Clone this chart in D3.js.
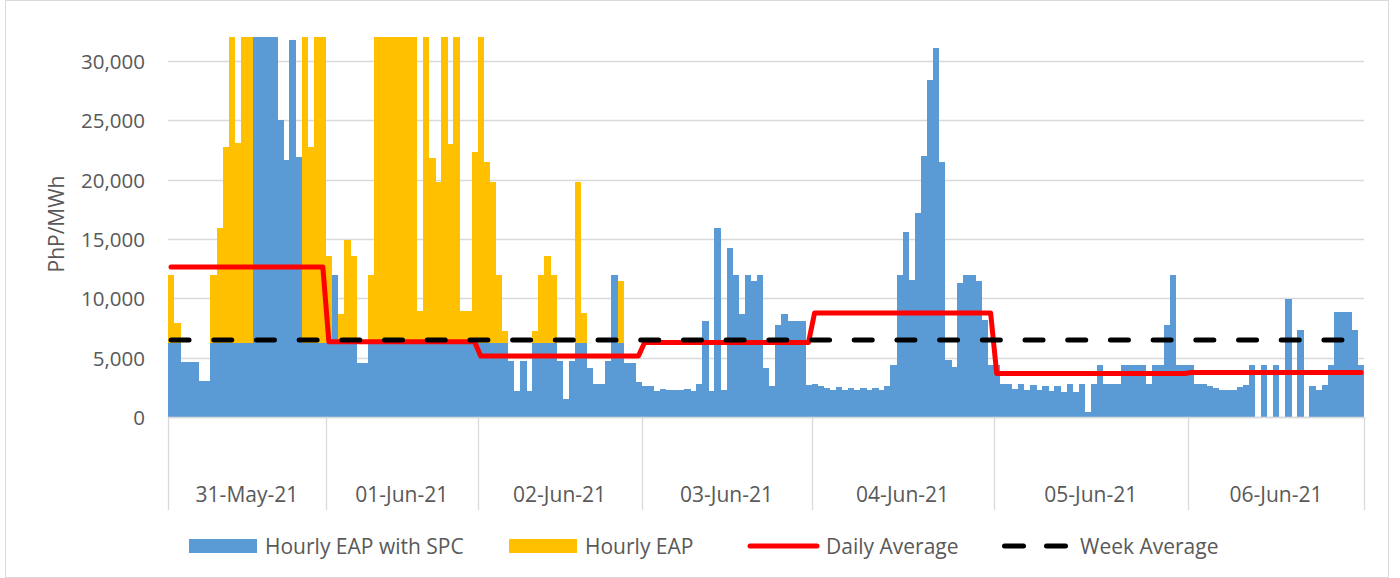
<!DOCTYPE html>
<html>
<head>
<meta charset="utf-8">
<script src="https://cdn.jsdelivr.net/npm/d3@7"></script>
<style>
body { margin: 0; background: #fff; }
svg text { font-family: "Open Sans", sans-serif; fill: #595959; }
</style>
</head>
<body>
<svg id="chart" width="1400" height="578"></svg>
<script>
// days on the lower axis level and how many hourly entries each one holds
const days = ["31-May-21", "01-Jun-21", "02-Jun-21", "03-Jun-21", "04-Jun-21", "05-Jun-21", "06-Jun-21"];
const hoursPerDay = [26, 25, 27, 28, 30, 32, 29];

// Hourly EAP with SPC (PhP/MWh), day by day
const eapWithSpc = [
  6200, 6200, 4600, 4600, 4600, 3000, 3000, 6200, 6200, 6200, 6200, 6200, 6200, 6200, 32000, 32000, 32000, 32000, 25000, 21700, 31800, 21900, 6200, 6200, 6200, 6200,
  6200, 11950, 6200, 6200, 6200, 4590, 4590, 6200, 6200, 6200, 6200, 6200, 6200, 6200, 6200, 6200, 6200, 6200, 6200, 6200, 6200, 6200, 6200, 6200, 6200,
  6200, 6200, 6200, 6200, 6200, 4730, 2200, 4730, 2200, 6200, 6200, 6200, 6200, 4730, 1550, 4730, 6200, 6200, 4170, 2760, 2760, 4730, 11950, 6200, 4590, 4590, 2990,
  2620, 2620, 2200, 2340, 2250, 2250, 2250, 2340, 2200, 2760, 8060, 2200, 15950, 2280, 14250, 11950, 8680, 11950, 11500, 11950, 4170, 2620, 7720, 8680, 8060, 8060, 8060, 2680,
  2760, 2620, 2480, 2280, 2540, 2250, 2420, 2250, 2420, 2250, 2420, 2250, 2620, 4390, 11950, 15550, 11550, 17180, 21970, 28400, 31070, 21470, 4790, 4250, 11320, 11950, 11950, 11500, 8170, 4390,
  4390, 2760, 2760, 2340, 2760, 2280, 2700, 2280, 2620, 2200, 2620, 2110, 2760, 2140, 2760, 450, 2760, 4390, 2760, 2760, 2760, 4390, 4390, 4390, 4390, 2760, 4390, 4390, 7780, 11950, 4390, 4390,
  4390, 2760, 2760, 2620, 2480, 2280, 2280, 2280, 2540, 2680, 4390, 0, 4390, 0, 4390, 0, 9940, 0, 7300, 0, 2620, 2280, 2680, 4390, 8850, 8850, 8850, 7300, 4390
];

// Hourly EAP (PhP/MWh), drawn behind; values above 32,000 are cut by the axis
const eap = [
  11950, 7900, 4600, 4600, 4600, 3000, 3000, 11950, 15950, 22760, 32000, 23100, 32000, 32000, 32000, 32000, 32000, 32000, 25000, 21700, 31800, 21900, 32000, 22760, 32000, 32000,
  13550, 11950, 8680, 14930, 13550, 4590, 4590, 11950, 32000, 32000, 32000, 32000, 32000, 32000, 32000, 8960, 32000, 21800, 19830, 32000, 22990, 32000, 8960, 8960, 22370,
  32000, 21520, 19800, 11950, 7210, 4730, 2200, 4730, 2200, 7270, 11950, 13550, 11950, 4730, 1550, 4730, 19800, 8760, 4170, 2760, 2760, 4730, 11950, 11500, 4590, 4590, 2990,
  2620, 2620, 2200, 2340, 2250, 2250, 2250, 2340, 2200, 2760, 8060, 2200, 15950, 2280, 14250, 11950, 8680, 11950, 11500, 11950, 4170, 2620, 7720, 8680, 8060, 8060, 8060, 2680,
  2760, 2620, 2480, 2280, 2540, 2250, 2420, 2250, 2420, 2250, 2420, 2250, 2620, 4390, 11950, 15550, 11550, 17180, 21970, 28400, 31070, 21470, 4790, 4250, 11320, 11950, 11950, 11500, 8170, 4390,
  4390, 2760, 2760, 2340, 2760, 2280, 2700, 2280, 2620, 2200, 2620, 2110, 2760, 2140, 2760, 450, 2760, 4390, 2760, 2760, 2760, 4390, 4390, 4390, 4390, 2760, 4390, 4390, 7780, 11950, 4390, 4390,
  4390, 2760, 2760, 2620, 2480, 2280, 2280, 2280, 2540, 2680, 4390, 0, 4390, 0, 4390, 0, 9940, 0, 7300, 0, 2620, 2280, 2680, 4390, 8850, 8850, 8850, 7300, 4390
];

const dailyAverage = [12650, 6340, 5150, 6280, 8760, 3660, 3750];
const weekAverage = 6480;
const yTicks = [0, 5000, 10000, 15000, 20000, 25000, 30000];

const svg = d3.select("#chart");
const plotLeft = 168, plotRight = 1364, plotTop = 37.3, plotBottom = 417;

// outer frame
svg.append("rect")
  .attr("x", 5.5).attr("y", 0.5).attr("width", 1383).attr("height", 577)
  .attr("fill", "none").attr("stroke", "#d9d9d9");

const x = d3.scaleBand()
  .domain(d3.range(eap.length))
  .range([plotLeft, plotRight])
  .padding(0);

const y = d3.scaleLinear()
  .domain([0, 32000])
  .range([plotBottom, plotTop]);

// grid
svg.append("g").selectAll("line")
  .data(yTicks)
  .join("line")
  .attr("x1", plotLeft).attr("x2", plotRight)
  .attr("y1", d => Math.round(y(d)) + 0.5).attr("y2", d => Math.round(y(d)) + 0.5)
  .attr("stroke", "#d9d9d9").attr("stroke-width", 1.3);

svg.append("g").selectAll("text")
  .data(yTicks)
  .join("text")
  .attr("x", 145).attr("y", d => y(d))
  .attr("text-anchor", "end").attr("dominant-baseline", "central")
  .style("font-size", "20.5px")
  .text(d3.format(","));

svg.append("text")
  .attr("transform", "translate(64,224) rotate(-90)")
  .attr("text-anchor", "middle")
  .style("font-size", "21px")
  .text("PhP/MWh");

// bars: yellow behind, blue in front
const bars = svg.append("g").attr("shape-rendering", "crispEdges");
bars.selectAll("rect.eap")
  .data(eap)
  .join("rect")
  .attr("class", "eap")
  .attr("x", (d, i) => x(i)).attr("width", x.bandwidth() + 0.4)
  .attr("y", d => y(d)).attr("height", d => y(0) - y(d))
  .attr("fill", "#FFC000");

bars.selectAll("rect.spc")
  .data(eapWithSpc)
  .join("rect")
  .attr("class", "spc")
  .attr("x", (d, i) => x(i)).attr("width", x.bandwidth() + 0.4)
  .attr("y", d => y(d)).attr("height", d => y(0) - y(d))
  .attr("fill", "#5B9BD5");

// day axis
const dayEnds = d3.cumsum(hoursPerDay);
const dayStarts = [0, ...dayEnds.slice(0, -1)];
const bound = i => i >= eap.length ? plotRight : x(i);

svg.append("line")
  .attr("x1", plotLeft).attr("x2", plotRight).attr("y1", plotBottom + 0.5).attr("y2", plotBottom + 0.5)
  .attr("stroke", "#d9d9d9").attr("stroke-width", 1.5);

svg.append("g").selectAll("line")
  .data([0, ...dayEnds])
  .join("line")
  .attr("x1", d => Math.round(bound(d)) + 0.5).attr("x2", d => Math.round(bound(d)) + 0.5)
  .attr("y1", plotBottom).attr("y2", 510)
  .attr("stroke", "#d9d9d9").attr("stroke-width", 1.3);

svg.append("g").selectAll("text")
  .data(days)
  .join("text")
  .attr("x", (d, i) => (bound(dayStarts[i]) + bound(dayEnds[i])) / 2)
  .attr("y", 502)
  .attr("text-anchor", "middle")
  .style("font-size", "21px")
  .text(d => d);

// average lines through bar centres
const cx = i => x(i) + x.bandwidth() / 2;
const dayOfHour = days.flatMap((d, i) => d3.range(hoursPerDay[i]).map(() => i));

svg.append("path")
  .datum(dayOfHour)
  .attr("fill", "none").attr("stroke", "#FF0000").attr("stroke-width", 5)
  .attr("stroke-linejoin", "round").attr("stroke-linecap", "round")
  .attr("d", d3.line().x((d, i) => cx(i)).y(d => y(dailyAverage[d])));

svg.append("path")
  .datum(dayOfHour)
  .attr("fill", "none").attr("stroke", "#000").attr("stroke-width", 5)
  .attr("stroke-linecap", "round").attr("stroke-dasharray", "18,24.7")
  .attr("d", d3.line().x((d, i) => cx(i)).y(() => y(weekAverage)));

// legend
const legend = svg.append("g").style("font-size", "21px");
const ly = 546;
legend.append("rect").attr("x", 189).attr("y", ly - 7).attr("width", 68).attr("height", 14).attr("fill", "#5B9BD5");
legend.append("text").attr("x", 265).attr("y", ly).attr("dominant-baseline", "central").text("Hourly EAP with SPC");
legend.append("rect").attr("x", 509).attr("y", ly - 7).attr("width", 68).attr("height", 14).attr("fill", "#FFC000");
legend.append("text").attr("x", 585).attr("y", ly).attr("dominant-baseline", "central").text("Hourly EAP");
legend.append("line").attr("x1", 750).attr("x2", 817).attr("y1", ly).attr("y2", ly)
  .attr("stroke", "#FF0000").attr("stroke-width", 5).attr("stroke-linecap", "round");
legend.append("text").attr("x", 826).attr("y", ly).attr("dominant-baseline", "central").text("Daily Average");
legend.append("line").attr("x1", 1004.5).attr("x2", 1066).attr("y1", ly).attr("y2", ly)
  .attr("stroke", "#000").attr("stroke-width", 5).attr("stroke-linecap", "round").attr("stroke-dasharray", "19,23");
legend.append("text").attr("x", 1080).attr("y", ly).attr("dominant-baseline", "central").text("Week Average");
</script>
</body>
</html>
